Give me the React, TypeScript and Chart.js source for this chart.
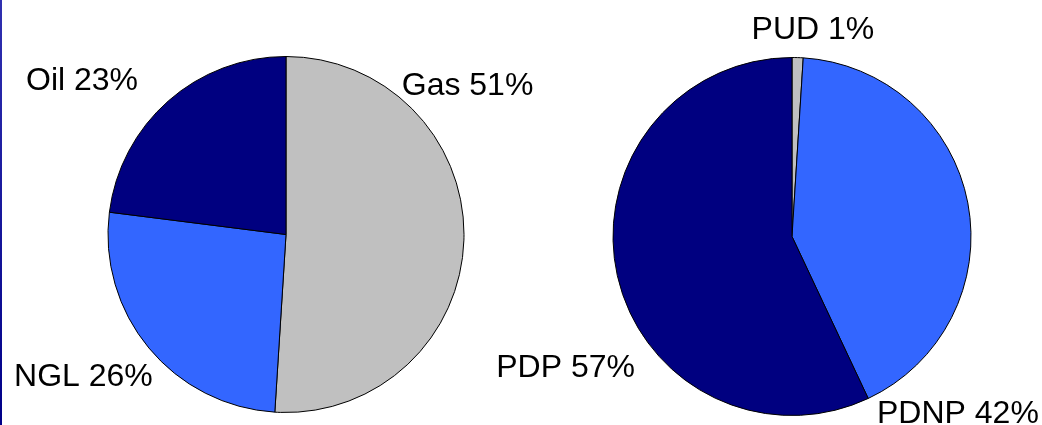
import React, { useEffect, useRef } from "react";
import { Chart, registerables } from "chart.js";

Chart.register(...registerables);

// Commodity mix (left pie)
const commodityLabels = ["Gas", "NGL", "Oil"];
const commodityValues = [51, 26, 23];

// Reserve category mix (right pie)
const reserveLabels = ["PUD", "PDNP", "PDP"];
const reserveValues = [1, 42, 57];

const NAVY = "#000080";
const BRIGHT_BLUE = "#3366FF";
const SILVER = "#C0C0C0";

const commodityColors = [SILVER, BRIGHT_BLUE, NAVY];
const reserveColors = [SILVER, BRIGHT_BLUE, NAVY];

// Label baseline anchors, expressed as multiples of the pie radius from its centre
const commodityLabelOffsets: [number, number][] = [
  [1.02, -0.784],
  [-1.138, 0.851],
  [-1.146, -0.812],
];
const reserveLabelOffsets: [number, number][] = [
  [0.117, -1.103],
  [0.927, 1.042],
  [-1.265, 0.785],
];

const FONT = "32px 'Liberation Sans', Arial, sans-serif";
const WIDTH = 1042;
const HEIGHT = 425;

function makeLabelPlugin(offsets: [number, number][]) {
  return {
    id: "sliceLabels",
    afterDraw(chart: any) {
      const meta = chart.getDatasetMeta(0);
      const first = meta.data[0] as any;
      if (!first) return;
      const cx = first.x;
      const cy = first.y;
      const r = first.outerRadius;
      const ctx = chart.ctx;
      const labels = chart.data.labels as string[];
      const values = chart.data.datasets[0].data as number[];
      ctx.save();
      ctx.font = FONT;
      ctx.fillStyle = "#000";
      ctx.textAlign = "center";
      ctx.textBaseline = "alphabetic";
      labels.forEach((lab, i) => {
        const [dx, dy] = offsets[i];
        ctx.fillText(`${lab} ${values[i]}%`, cx + dx * r, cy + dy * r);
      });
      ctx.restore();
    },
  };
}

type PieProps = {
  labels: string[];
  values: number[];
  colors: string[];
  offsets: [number, number][];
  padding: { left: number; right: number; top: number; bottom: number };
};

function PieChart({ labels, values, colors, offsets, padding }: PieProps) {
  const ref = useRef<HTMLCanvasElement | null>(null);
  useEffect(() => {
    if (!ref.current) return;
    const chart = new Chart(ref.current, {
      type: "pie",
      data: {
        labels,
        datasets: [
          {
            data: values,
            backgroundColor: colors,
            borderColor: "#000",
            borderWidth: 1,
          },
        ],
      },
      options: {
        animation: false,
        responsive: false,
        maintainAspectRatio: false,
        layout: { padding },
        plugins: {
          legend: { display: false },
          tooltip: { enabled: false },
        },
      },
      plugins: [makeLabelPlugin(offsets)],
    });
    return () => chart.destroy();
  }, []);
  return (
    <canvas
      ref={ref}
      width={WIDTH}
      height={HEIGHT}
      style={{ position: "absolute", left: 0, top: 0, width: WIDTH, height: HEIGHT }}
    />
  );
}

export default function App() {
  return (
    <div
      style={{
        position: "absolute",
        left: 0,
        top: 0,
        width: WIDTH,
        height: HEIGHT,
        background: "#fff",
        overflow: "hidden",
      }}
    >
      <div
        style={{
          position: "absolute",
          left: 0,
          top: 0,
          width: 2,
          height: HEIGHT,
          background: "linear-gradient(#3030b0, #000088)",
        }}
      />
      <PieChart
        labels={commodityLabels}
        values={commodityValues}
        colors={commodityColors}
        offsets={commodityLabelOffsets}
        padding={{ left: 107.5, right: 577.5, top: 56, bottom: 12 }}
      />
      <PieChart
        labels={reserveLabels}
        values={reserveValues}
        colors={reserveColors}
        offsets={reserveLabelOffsets}
        padding={{ left: 612.5, right: 70.5, top: 57, bottom: 9 }}
      />
    </div>
  );
}
